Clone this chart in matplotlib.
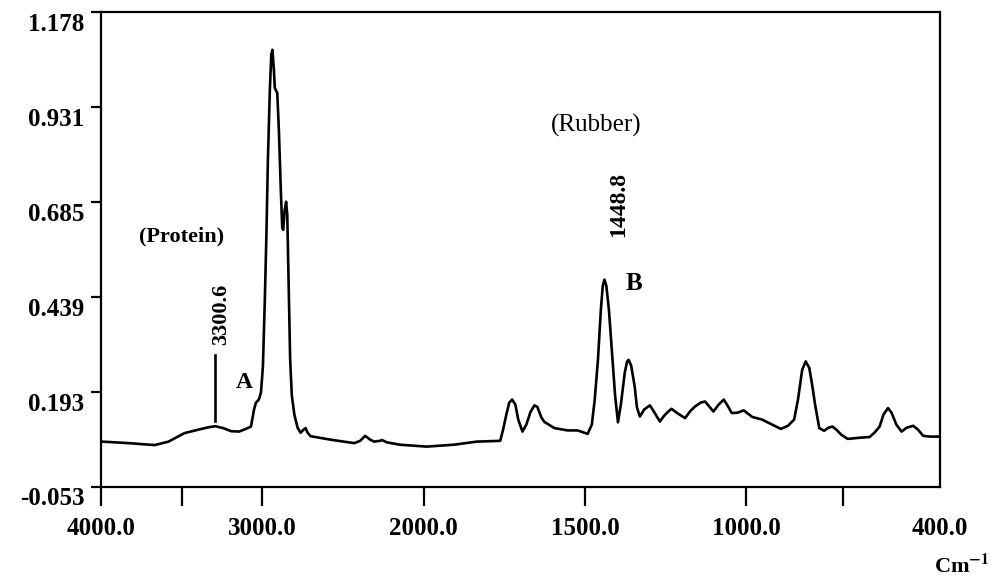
import numpy as np
import matplotlib
matplotlib.use("Agg")
import matplotlib.pyplot as plt
from matplotlib.transforms import ScaledTranslation

# ---------------- data ----------------
wavenumber = [3995, 3828, 3668, 3582, 3483, 3397, 3335, 3292, 3243, 3194, 3145, 3102, 3071,
              3052, 3040, 3022, 3009, 2997, 2985, 2975, 2966, 2954, 2945, 2938, 2929, 2923,
              2908, 2898, 2886, 2877, 2871, 2862, 2853, 2846, 2837, 2828, 2818, 2802, 2782,
              2763, 2745, 2732, 2720, 2701, 2578, 2431, 2394, 2363, 2332, 2308, 2271, 2258,
              2228, 2148, 1991, 1906, 1835, 1763, 1754, 1744, 1735, 1726, 1716, 1707, 1694,
              1682, 1669, 1657, 1648, 1635, 1626, 1595, 1554, 1523, 1492, 1479, 1470, 1460,
              1451, 1445, 1440, 1434, 1426, 1417, 1407, 1398, 1389, 1377, 1370, 1365, 1357,
              1346, 1339, 1330, 1317, 1299, 1286, 1268, 1255, 1242, 1232, 1211, 1190, 1173,
              1159, 1142, 1128, 1114, 1102, 1086, 1070, 1058, 1045, 1027, 1008, 982, 951,
              920, 893, 871, 852, 840, 827, 816, 805, 796, 787, 774, 759, 746, 733, 721,
              706, 686, 649, 618, 603, 587, 575, 561, 550, 535, 519, 503, 483, 468, 452,
              431, 401]
absorbance = [0.064, 0.060, 0.055, 0.064, 0.086, 0.095, 0.101, 0.104, 0.099, 0.091, 0.090, 0.097, 0.103,
              0.147, 0.165, 0.173, 0.191, 0.258, 0.432, 0.605, 0.794, 0.976, 1.067, 1.080, 1.028, 0.981,
              0.968, 0.872, 0.717, 0.618, 0.613, 0.665, 0.686, 0.652, 0.458, 0.276, 0.185, 0.134, 0.100,
              0.087, 0.095, 0.099, 0.087, 0.078, 0.069, 0.060, 0.066, 0.079, 0.069, 0.064, 0.066, 0.068,
              0.062, 0.056, 0.051, 0.056, 0.064, 0.066, 0.095, 0.134, 0.165, 0.173, 0.160, 0.121, 0.090,
              0.108, 0.141, 0.158, 0.154, 0.126, 0.115, 0.099, 0.093, 0.093, 0.084, 0.108, 0.173, 0.276,
              0.406, 0.468, 0.484, 0.468, 0.406, 0.302, 0.185, 0.114, 0.160, 0.242, 0.271, 0.276, 0.261,
              0.206, 0.152, 0.129, 0.147, 0.158, 0.141, 0.116, 0.131, 0.142, 0.149, 0.136, 0.125, 0.144,
              0.155, 0.165, 0.168, 0.154, 0.142, 0.160, 0.173, 0.157, 0.138, 0.139, 0.145, 0.128, 0.121,
              0.108, 0.097, 0.105, 0.121, 0.173, 0.250, 0.272, 0.255, 0.211, 0.160, 0.099, 0.092, 0.100,
              0.103, 0.095, 0.082, 0.071, 0.074, 0.076, 0.087, 0.103, 0.134, 0.151, 0.139, 0.108, 0.090,
              0.100, 0.105, 0.095, 0.079, 0.077, 0.077]

ytick_values = [1.178, 0.931, 0.685, 0.439, 0.193, -0.053]
ytick_labels = ["1.178", "0.931", "0.685", "0.439", "0.193", "-0.053"]
xtick_values = [4000, 3000, 2000, 1500, 1000, 400]
xtick_labels = ["4000.0", "3000.0", "2000.0", "1500.0", "1000.0", "400.0"]
xminor_values = [3500, 700]

marker_wn = 3292
marker_range = (0.118, 0.289)

# ---------------- figure ----------------
plt.rcParams['font.family'] = ['Liberation Serif', 'DejaVu Serif']
plt.rcParams['mathtext.fontset'] = 'stix'

fig = plt.figure(figsize=(10.01, 5.82), dpi=100)
ax = fig.add_axes([0.101, 0.1637, 0.838, 0.8157])


def fwd(x):
    x = np.asarray(x, dtype=float)
    return np.where(x >= 2000, x, 2 * x - 2000)


def inv(u):
    u = np.asarray(u, dtype=float)
    return np.where(u >= 2000, u, (u + 2000) / 2)


ax.set_xscale('function', functions=(fwd, inv))
ax.set_xlim(4000, 400)
ax.set_ylim(-0.053, 1.178)

ax.plot(wavenumber, absorbance, color='black', lw=1.9, solid_joinstyle='round')
ax.plot([marker_wn, marker_wn], marker_range, color='black', lw=1.9)

for s in ax.spines.values():
    s.set_linewidth(1.6)

ax.set_xticks(xtick_values)
ax.set_xticklabels(xtick_labels, fontsize=18, fontweight='bold')
ax.set_xticks(xminor_values, minor=True)
ax.tick_params(axis='x', which='both', direction='out', length=14, width=1.6, pad=8)
ax.xaxis.get_major_ticks()[-1].tick1line.set_visible(False)

ax.set_yticks(ytick_values)
ax.set_yticklabels(ytick_labels, fontsize=18, fontweight='bold')
ax.tick_params(axis='y', direction='out', length=7, width=1.6, pad=5)
offset = ScaledTranslation(0, -7 / 72, fig.dpi_scale_trans)
for lab in ax.get_yticklabels():
    lab.set_transform(lab.get_transform() + offset)

# annotations
ax.text(3500, 0.595, "(Protein)", fontsize=16, fontweight='bold', ha='center', va='center')
ax.text(3255, 0.395, "3300.6", fontsize=16, fontweight='bold', rotation=90, ha='center', va='center')
ax.text(3114, 0.2165, "A", fontsize=17, fontweight='bold', ha='center', va='center')
ax.text(1464, 0.885, "(Rubber)", fontsize=18, ha='center', va='center')
ax.text(1395, 0.678, "1448.8", fontsize=17, fontweight='bold', rotation=90, ha='center', va='center')
ax.text(1347, 0.473, "B", fontsize=18, fontweight='bold', ha='center', va='center')

fig.text(0.961, 0.027, r"Cm$^{\mathbf{-1}}$", fontsize=16, fontweight='bold', ha='center', va='center')

fig.savefig("out.png", dpi=100)
